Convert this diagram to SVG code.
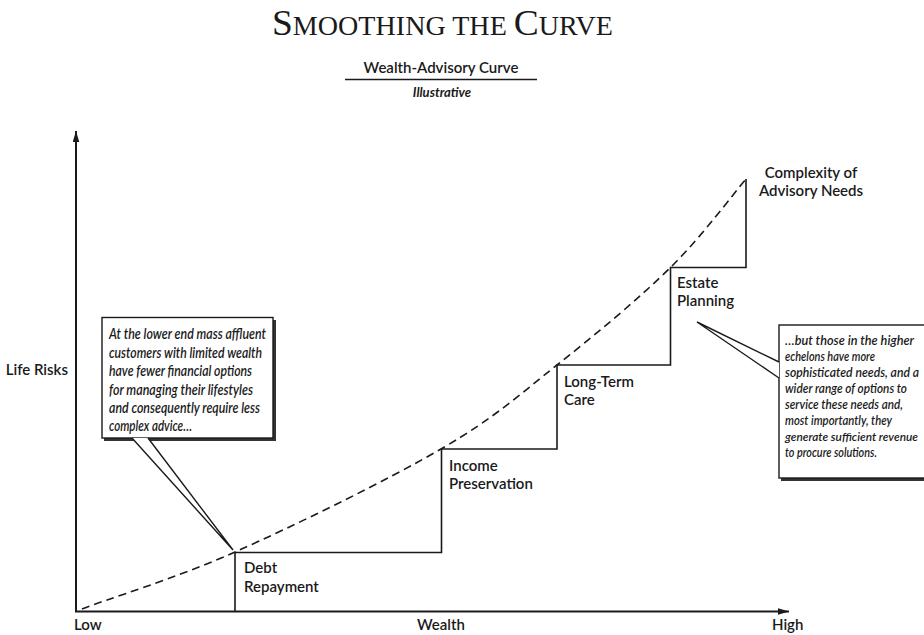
<svg xmlns="http://www.w3.org/2000/svg" width="924" height="635" viewBox="0 0 924 635">
  <style>
    .ln { fill: none; stroke: #1a1a1a; stroke-width: 1.6; }
    .ax { fill: none; stroke: #1a1a1a; stroke-width: 2; }
    .dash { fill: none; stroke: #1a1a1a; stroke-width: 1.6; stroke-dasharray: 8 5; }
    .lbl { font-family: Lato, "Open Sans", "Liberation Sans", sans-serif; font-size: 15px; font-weight: 600; fill: #1a1a1a; }
    .ital { font-family: Lato, "Open Sans", "Liberation Sans", sans-serif; font-style: italic; font-size: 15px; font-weight: 600; fill: #1a1a1a; }
    .box { fill: #ffffff; stroke: #1a1a1a; stroke-width: 1.4; }
    .shadow { fill: #333333; }
  </style>
  <defs>
    <marker id="arr" viewBox="0 0 10 6" refX="10" refY="3" markerWidth="11" markerHeight="7" markerUnits="userSpaceOnUse" orient="auto">
      <path d="M0,0 L10,3 L0,6 z" fill="#1a1a1a"/>
    </marker>
  </defs>
  <rect width="924" height="635" fill="#ffffff"/>

  <g id="title">
    <text x="442.5" y="35" text-anchor="middle" textLength="341" lengthAdjust="spacingAndGlyphs" font-family="'Liberation Serif', serif" fill="#1a1a1a"><tspan font-size="36">S</tspan><tspan font-size="27">MOOTHING THE </tspan><tspan font-size="36">C</tspan><tspan font-size="27">URVE</tspan></text>
  </g>
  <g id="subtitle">
    <text x="441" y="73" text-anchor="middle" class="lbl">Wealth-Advisory Curve</text>
    <line x1="345" y1="79.5" x2="537" y2="79.5" stroke="#1a1a1a" stroke-width="1.3"/>
    <text x="442" y="97" text-anchor="middle" class="ital" style="font-size:13px;font-weight:700">Illustrative</text>
  </g>

  <g id="connectors">
    <line class="ax" x1="76" y1="612" x2="76" y2="131" marker-end="url(#arr)"/>
    <line class="ax" x1="75" y1="611.5" x2="789" y2="611.5" marker-end="url(#arr)"/>
    <path class="ln" d="M235,611 V552.5 H441.5 V449 H557 V365 H670.5 V267.5 H746 V179"/>
    <path class="dash" d="M82,609 C105.8,599.5 174.8,578.7 235,552 C295.2,525.3 387.3,480.2 441,449 C494.7,417.8 518.8,395.2 557,365 C595.2,334.8 638.5,299 670,268 C701.5,237 733.3,193.8 746,179"/>
  </g>

  <g id="axis-labels">
    <text class="lbl" x="68" y="375" text-anchor="end">Life Risks</text>
    <text class="lbl" x="74" y="630">Low</text>
    <text class="lbl" x="417" y="630">Wealth</text>
    <text class="lbl" x="772" y="630">High</text>
  </g>

  <g id="node-debt">
    <text class="lbl" x="244" y="573">Debt</text>
    <text class="lbl" x="244" y="592">Repayment</text>
  </g>
  <g id="node-income">
    <text class="lbl" x="449" y="471">Income</text>
    <text class="lbl" x="449" y="489">Preservation</text>
  </g>
  <g id="node-longterm">
    <text class="lbl" x="564" y="387">Long-Term</text>
    <text class="lbl" x="564" y="405">Care</text>
  </g>
  <g id="node-estate">
    <text class="lbl" x="677" y="288">Estate</text>
    <text class="lbl" x="677" y="306">Planning</text>
  </g>
  <g id="node-complexity">
    <text class="lbl" x="811" y="178" text-anchor="middle">Complexity of</text>
    <text class="lbl" x="811" y="196" text-anchor="middle">Advisory Needs</text>
  </g>

  <g id="callout-low">
    <rect class="shadow" x="104" y="320" width="172" height="121"/>
    <rect class="box" x="102" y="317.5" width="171" height="120.5"/>
    <path d="M132,438 L233,550 L148,438" fill="#ffffff" stroke="#1a1a1a" stroke-width="1.4" stroke-linejoin="miter"/>
    <g class="ital">
      <text x="109" y="339" textLength="157" lengthAdjust="spacingAndGlyphs">At the lower end mass affluent</text>
      <text x="109" y="357.5" textLength="153" lengthAdjust="spacingAndGlyphs">customers with limited wealth</text>
      <text x="109" y="376" textLength="143" lengthAdjust="spacingAndGlyphs">have fewer financial options</text>
      <text x="109" y="394.5" textLength="144" lengthAdjust="spacingAndGlyphs">for managing their lifestyles</text>
      <text x="109" y="413" textLength="151" lengthAdjust="spacingAndGlyphs">and consequently require less</text>
      <text x="109" y="431" textLength="83" lengthAdjust="spacingAndGlyphs">complex advice…</text>
    </g>
  </g>

  <g id="callout-high">
    <rect class="shadow" x="781" y="327" width="150" height="154"/>
    <rect class="box" x="779" y="325" width="150" height="153"/>
    <path d="M779,362 L697,322 L779,378" fill="#ffffff" stroke="#1a1a1a" stroke-width="1.4"/>
    <g class="ital" style="font-size:12.5px">
      <text x="785" y="345" textLength="129" lengthAdjust="spacingAndGlyphs">…but those in the higher</text>
      <text x="785" y="361" textLength="90" lengthAdjust="spacingAndGlyphs">echelons have more</text>
      <text x="785" y="377" textLength="134" lengthAdjust="spacingAndGlyphs">sophisticated needs, and a</text>
      <text x="785" y="393" textLength="122" lengthAdjust="spacingAndGlyphs">wider range of options to</text>
      <text x="785" y="409" textLength="118" lengthAdjust="spacingAndGlyphs">service these needs and,</text>
      <text x="785" y="425" textLength="107" lengthAdjust="spacingAndGlyphs">most importantly, they</text>
      <text x="785" y="441" textLength="133" lengthAdjust="spacingAndGlyphs" style="font-size:12px">generate sufficient revenue</text>
      <text x="785" y="457" textLength="92" lengthAdjust="spacingAndGlyphs">to procure solutions.</text>
    </g>
  </g>
</svg>
